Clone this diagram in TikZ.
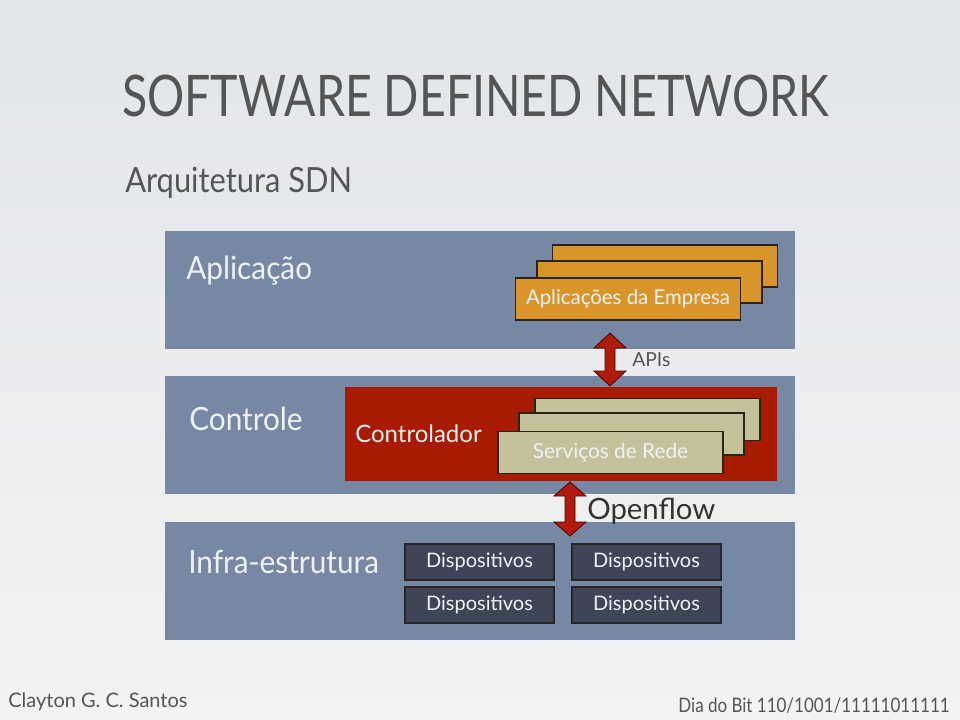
\documentclass[tikz,border=0pt]{standalone}
\usepackage{fontspec}
\setmainfont{Lato}
\newfontfamily\titlefont[FakeStretch=0.81]{Lato}
\newfontfamily\subfont[FakeStretch=0.89]{Lato}
\newfontfamily\bandfont[FakeStretch=0.93]{Lato}
\newfontfamily\datefont[FakeStretch=0.85]{Lato}
\definecolor{bgtop}{HTML}{E2E5E9}
\definecolor{bgbot}{HTML}{F2F3F4}
\definecolor{bandc}{HTML}{7788A4}
\definecolor{orangec}{HTML}{D8962A}
\definecolor{redbox}{HTML}{A81B00}
\definecolor{arrowred}{HTML}{B01C0C}
\definecolor{tanc}{HTML}{C5C29B}
\definecolor{devc}{HTML}{3E4556}
\definecolor{edgec}{HTML}{2A2418}
\definecolor{lighttxt}{HTML}{EEF1F5}
\definecolor{darktxt}{HTML}{555555}
\tikzset{
  x=0.75pt, y=-0.75pt,
  band/.style={rectangle, fill=bandc, draw=none, minimum width=472.5pt, minimum height=88.5pt, inner sep=0pt},
  appbox/.style={rectangle, fill=orangec, draw=edgec, line width=0.8pt, minimum width=168.75pt, minimum height=31.5pt, inner sep=0pt, text=lighttxt, font=\fontsize{15.3}{17}\selectfont},
  svcbox/.style={rectangle, fill=tanc, draw=edgec, line width=0.8pt, minimum width=168.75pt, minimum height=31.5pt, inner sep=0pt, text=lighttxt, font=\fontsize{15.6}{18}\selectfont},
  devbox/.style={rectangle, fill=devc, draw=black!85, line width=0.8pt, minimum width=111.75pt, minimum height=27pt, inner sep=0pt, text=lighttxt, font=\fontsize{15}{17}\selectfont},
  bandlabel/.style={text=lighttxt, font=\bandfont\fontsize{24}{28}\selectfont, inner sep=0pt},
  arrowshape/.style={fill=arrowred, draw=black!70!red, line width=0.6pt, line join=miter},
  darklabel/.style={text=darktxt, inner sep=0pt}
}
\begin{document}
\begin{tikzpicture}
\shade[top color=bgtop, bottom color=bgbot] (0,0) rectangle (960,720);
\useasboundingbox (0,0) rectangle (960,720);
% title
\node[darklabel, anchor=base west, font=\titlefont\fontsize{43}{48}\selectfont] (title) at (122,117) {SOFTWARE DEFINED NETWORK};
\node[darklabel, anchor=base west, font=\subfont\fontsize{26}{30}\selectfont] (sub) at (125,193) {Arquitetura SDN};
% bands
\node[band] (app) at (480,290) {};
\node[band] (ctl) at (480,434.5) {};
\node[band] (infra) at (480,581) {};
\node[bandlabel, anchor=base west] (lapp) at (186,280) {Aplicação};
\node[bandlabel, anchor=base west] (lctl) at (189,430) {Controle};
\node[bandlabel, anchor=base west] (linfra) at (188,573) {Infra-estrutura};
% application boxes
\node[appbox] (a3) at (665,266) {};
\node[appbox] (a2) at (649.5,282) {};
\node[appbox] (a1) at (628,299) {Aplicações da Empresa};
% controller
\node[rectangle, fill=redbox, minimum width=324pt, minimum height=70.5pt, inner sep=0pt] (ctrl) at (561,434) {};
\node[text=lighttxt, anchor=base west, font=\fontsize{18}{21}\selectfont, inner sep=0pt] (lctrl) at (355,442) {Controlador};
\node[svcbox] (s3) at (647.5,419.5) {};
\node[svcbox] (s2) at (631.5,434) {};
\node[svcbox] (s1) at (610.5,452.5) {Serviços de Rede};
% devices
\node[devbox] (d1) at (479.5,562) {Dispositivos};
\node[devbox] (d2) at (646.5,562) {Dispositivos};
\node[devbox] (d3) at (479.5,605) {Dispositivos};
\node[devbox] (d4) at (646.5,605) {Dispositivos};
% APIs arrow
\coordinate (apitop) at (610,333);
\coordinate (apibot) at (610,386);
\draw[arrowshape] (apitop) -- ++(16,15) -- ++(-11,0) -- ++(0,23) -- ++(11,0) -- (apibot) -- ++(-16,-15) -- ++(11,0) -- ++(0,-23) -- ++(-11,0) -- cycle;
\node[darklabel, anchor=base west, font=\fontsize{14.5}{17}\selectfont] (apis) at (632,366) {APIs};
% Openflow arrow
\coordinate (oftop) at (570,482);
\coordinate (ofbot) at (570,536);
\draw[arrowshape] (oftop) -- ++(16,14) -- ++(-11,0) -- ++(0,26) -- ++(11,0) -- (ofbot) -- ++(-16,-14) -- ++(11,0) -- ++(0,-26) -- ++(-11,0) -- cycle;
\node[text=black!80, anchor=base west, font=\fontsize{22}{26}\selectfont, inner sep=0pt] (of) at (587,519) {Openflow};
% footer
\node[darklabel, anchor=base west, font=\fontsize{15}{18}\selectfont] (author) at (8,707) {Clayton G. C. Santos};
\node[darklabel, anchor=base east, font=\datefont\fontsize{15}{18}\selectfont] (date) at (950,712) {Dia do Bit 110/1001/11111011111};
\end{tikzpicture}
\end{document}
